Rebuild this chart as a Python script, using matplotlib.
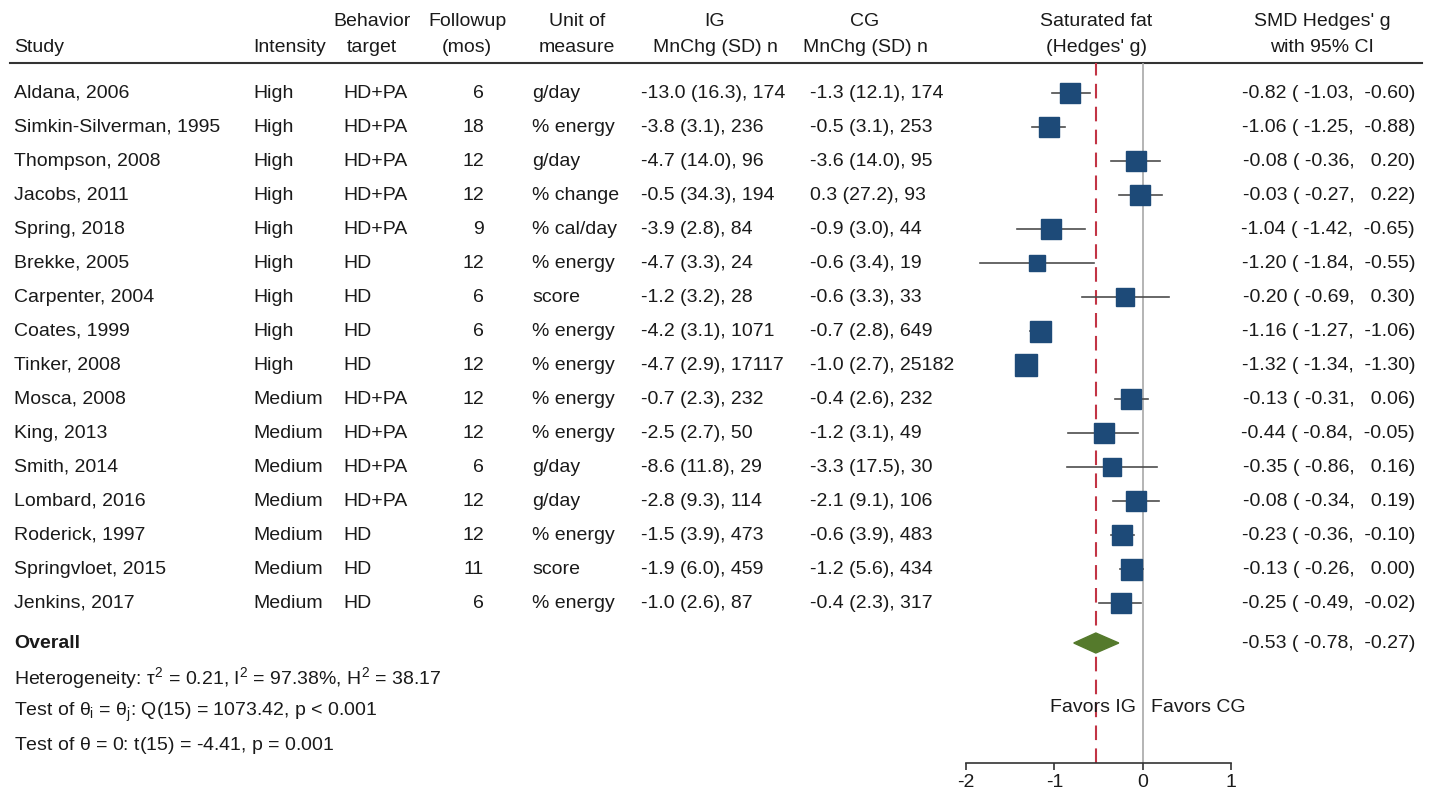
import numpy as np
import matplotlib
matplotlib.use("Agg")
import matplotlib.pyplot as plt

plt.rcParams['font.family'] = ['Liberation Sans', 'DejaVu Sans']
plt.rcParams['mathtext.fontset'] = 'custom'
plt.rcParams['mathtext.rm'] = 'Liberation Sans'
plt.rcParams['mathtext.it'] = 'Liberation Sans'

studies = ["Aldana, 2006", "Simkin-Silverman, 1995", "Thompson, 2008", "Jacobs, 2011",
           "Spring, 2018", "Brekke, 2005", "Carpenter, 2004", "Coates, 1999",
           "Tinker, 2008", "Mosca, 2008", "King, 2013", "Smith, 2014",
           "Lombard, 2016", "Roderick, 1997", "Springvloet, 2015", "Jenkins, 2017"]
intensity = ["High"] * 9 + ["Medium"] * 7
target = ["HD+PA"] * 5 + ["HD"] * 4 + ["HD+PA"] * 4 + ["HD"] * 3
followup = [6, 18, 12, 12, 9, 12, 6, 6, 12, 12, 12, 6, 12, 12, 11, 6]
unit = ["g/day", "% energy", "g/day", "% change", "% cal/day", "% energy", "score",
        "% energy", "% energy", "% energy", "% energy", "g/day", "g/day", "% energy",
        "score", "% energy"]

ig_mean = [-13.0, -3.8, -4.7, -0.5, -3.9, -4.7, -1.2, -4.2, -4.7, -0.7, -2.5, -8.6, -2.8, -1.5, -1.9, -1.0]
ig_sd = [16.3, 3.1, 14.0, 34.3, 2.8, 3.3, 3.2, 3.1, 2.9, 2.3, 2.7, 11.8, 9.3, 3.9, 6.0, 2.6]
ig_n = [174, 236, 96, 194, 84, 24, 28, 1071, 17117, 232, 50, 29, 114, 473, 459, 87]
cg_mean = [-1.3, -0.5, -3.6, 0.3, -0.9, -0.6, -0.6, -0.7, -1.0, -0.4, -1.2, -3.3, -2.1, -0.6, -1.2, -0.4]
cg_sd = [12.1, 3.1, 14.0, 27.2, 3.0, 3.4, 3.3, 2.8, 2.7, 2.6, 3.1, 17.5, 9.1, 3.9, 5.6, 2.3]
cg_n = [174, 253, 95, 93, 44, 19, 33, 649, 25182, 232, 49, 30, 106, 483, 434, 317]

g = [-0.82, -1.06, -0.08, -0.03, -1.04, -1.20, -0.20, -1.16, -1.32, -0.13, -0.44, -0.35, -0.08, -0.23, -0.13, -0.25]
g_lo = [-1.03, -1.25, -0.36, -0.27, -1.42, -1.84, -0.69, -1.27, -1.34, -0.31, -0.84, -0.86, -0.34, -0.36, -0.26, -0.49]
g_hi = [-0.60, -0.88, 0.20, 0.22, -0.65, -0.55, 0.30, -1.06, -1.30, 0.06, -0.05, 0.16, 0.19, -0.10, 0.00, -0.02]
# study weights (%) used for box size
weight = [6.6, 6.6, 6.3, 6.6, 6.0, 4.3, 5.4, 6.8, 6.9, 6.7, 5.6, 5.2, 6.4, 6.7, 6.8, 6.5]

overall = (-0.53, -0.78, -0.27)
stats_lines = [r"Heterogeneity: $\tau^{2}$ = 0.21, I$^{2}$ = 97.38%, H$^{2}$ = 38.17",
               r"Test of $\theta_{i}$ = $\theta_{j}$: Q(15) = 1073.42, p < 0.001",
               r"Test of $\theta$ = 0: t(15) = -4.41, p = 0.001"]

W, H = 1432, 792
fig = plt.figure(figsize=(W / 100, H / 100), dpi=100)

# text layer in pixel coordinates
tx = fig.add_axes([0, 0, 1, 1])
tx.set_xlim(0, W)
tx.set_ylim(H, 0)
tx.axis("off")

fs = 14
tc = "#1a1a1a"
row_y = 93 + 34 * np.arange(len(studies))
y_overall = 643
h1, h2 = 22, 48
rule_y = 63
axis_y = 763

def put(x, y, s, ha="left", **kw):
    tx.text(x, y, s, ha=ha, va="center", fontsize=fs, color=tc, **kw)

# headers
put(14, h2, "Study")
put(253, h2, "Intensity")
for x, a, b in [(372, "Behavior", "target"), (467, "Followup", "(mos)"),
                (577, "Unit of", "measure"), (715, "IG", "MnChg (SD) n"),
                (865, "CG", "MnChg (SD) n"), (1096, "Saturated fat", "(Hedges' g)"),
                (1322, "SMD Hedges' g", "with 95% CI")]:
    put(x, h1, a, ha="center")
    put(x, h2, b, ha="center")
tx.plot([10, 1422], [rule_y, rule_y], color="#333333", lw=1.5)

for i, y in enumerate(row_y):
    put(14, y, studies[i])
    put(253, y, intensity[i])
    put(343, y, target[i])
    put(484, y, str(followup[i]), ha="right")
    put(532, y, unit[i])
    put(641, y, f"{ig_mean[i]:.1f} ({ig_sd[i]:.1f}), {ig_n[i]}")
    put(810, y, f"{cg_mean[i]:.1f} ({cg_sd[i]:.1f}), {cg_n[i]}")
    put(1415, y, f"{g[i]:.2f} ({g_lo[i]:6.2f}, {g_hi[i]:6.2f})", ha="right")

put(14, y_overall, "Overall", fontweight="bold")
put(1415, y_overall, f"{overall[0]:.2f} ({overall[1]:6.2f}, {overall[2]:6.2f})", ha="right")
for k, s in enumerate(stats_lines):
    put(14, 678 + 34 * k, s)

# forest panel: x in Hedges' g, y in pixels
x0, x1 = 966, 1231
ax = fig.add_axes([x0 / W, 1 - axis_y / H, (x1 - x0) / W, (axis_y - rule_y) / H])
ax.patch.set_alpha(0)
ax.set_xlim(-2, 1)
ax.set_ylim(axis_y, rule_y)
for side in ["top", "right", "left"]:
    ax.spines[side].set_visible(False)
ax.spines["bottom"].set_color("#333333")
ax.spines["bottom"].set_linewidth(1.2)
ax.set_yticks([])
ax.set_xticks([-2, -1, 0, 1])
ax.set_xticklabels(["-2", "-1", "0", "1"])
ax.tick_params(axis="x", direction="out", length=5, width=1.2, color="#333333",
               labelsize=fs, labelcolor=tc, pad=3)

ax.axvline(0, color="#a8a8a8", lw=1.2, zorder=1)
ax.axvline(overall[0], color="#c23445", lw=1.5, ls=(0, (7, 4)), zorder=1)

for i, y in enumerate(row_y):
    ax.plot([g_lo[i], g_hi[i]], [y, y], color="#4d4d4d", lw=1.2, zorder=2)
    side_px = 21 * np.sqrt(weight[i] / 6.8)
    ax.plot(g[i], y, marker="s", ms=side_px * 0.72, color="#1d4a78",
            mec="#1d4a78", zorder=3)

est, lo, hi = overall
ax.fill([lo, est, hi, est], [y_overall, y_overall - 10, y_overall, y_overall + 10],
        color="#557a2c", zorder=3)

ax.text(-0.08, 707, "Favors IG", ha="right", va="center", fontsize=fs, color=tc,
        zorder=4)
ax.text(0.09, 707, "Favors CG", ha="left", va="center", fontsize=fs, color=tc,
        zorder=4)

fig.savefig("out.png", dpi=100)
